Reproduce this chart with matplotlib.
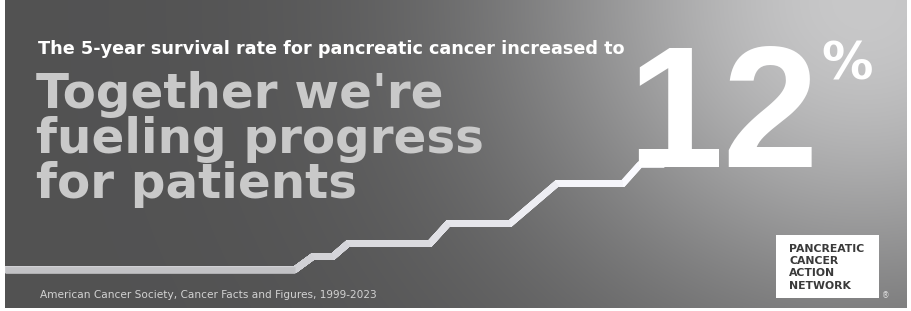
import numpy as np
import matplotlib
matplotlib.use("Agg")
import matplotlib.pyplot as plt
from matplotlib.patches import Rectangle

# ---- data ----
years = [1999.0, 2009.58, 2010.23, 2010.96, 2011.51, 2014.50, 2015.16,
         2017.42, 2019.13, 2021.54, 2022.16, 2023.05]
rates = [4.0, 4.0, 4.99, 4.99, 5.98, 5.98, 7.5, 7.5, 10.55, 10.55, 12.0, 12.0]
headline = ["Together we're", "fueling progress", "for patients"]
subtitle = "The 5-year survival rate for pancreatic cancer increased to"
big_value = "12"
big_unit = "%"
source = "American Cancer Society, Cancer Facts and Figures, 1999-2023"
logo_lines = ["PANCREATIC", "CANCER", "ACTION", "NETWORK"]

W, H = 912, 311
fig = plt.figure(figsize=(W / 100, H / 100), dpi=100, facecolor="white")

def fx(px):
    return px / W

def fy(py):
    return 1 - py / H

# ---- background gradient panel ----
x0, x1, y0, y1 = 5, 907, 0, 308
ax_bg = fig.add_axes([fx(x0), fy(y1), (x1 - x0) / W, (y1 - y0) / H])
gx = np.linspace(x0, x1, 451)
gy = np.linspace(y0, y1, 155)
GX, GY = np.meshgrid(gx, gy)
d2 = ((GX - 865) ** 2) / (2 * 245 ** 2) + ((GY - 0) ** 2) / (2 * 225 ** 2)
val = (82 + 118 * np.exp(-d2)) / 255.0
img = np.dstack([val, val, val * 1.005]).clip(0, 1)
ax_bg.imshow(img, extent=[x0, x1, y1, y0], aspect="auto", interpolation="bilinear")
ax_bg.set_xlim(x0, x1)
ax_bg.set_ylim(y1, y0)
ax_bg.axis("off")

# ---- step line ----
ax = fig.add_axes([fx(5), fy(269.5), (663 - 5) / W, (269.5 - 164.5) / H])
ax.set_xlim(1999, 2023)
ax.set_ylim(4, 12)
ax.axis("off")
ax.patch.set_alpha(0)

def seg_color(t):
    # light gray on the left -> white on the right
    v = 0.72 + 0.28 * min(max(t, 0), 1) ** 1.3
    return (v, v, min(v * 1.02, 1))

n = len(years)
xmin, xmax = years[0], years[-1]
for k in range(n, 1, -1):
    mid = 0.5 * (years[k - 2] + years[k - 1])
    t = (mid - xmin) / (xmax - xmin)
    ax.plot(years[:k], rates[:k], color=seg_color(t), lw=4.8,
            solid_joinstyle="miter", solid_capstyle="butt", clip_on=False)

# ---- texts ----
fig.text(fx(38), fy(54), subtitle, color="white", fontsize=12.7,
         fontweight="bold", family="DejaVu Sans", va="baseline", ha="left")

for i, line in enumerate(headline):
    fig.text(fx(36), fy(108 + 45 * i), line, color="#c9c9c9", fontsize=34.8,
             fontweight="bold", family="DejaVu Sans", va="baseline", ha="left")

fig.text(fx(627), fy(167), big_value, color="white", fontsize=124,
         fontweight="bold", family="Liberation Sans", va="baseline", ha="left")
fig.text(fx(821), fy(80), big_unit, color="white", fontsize=37,
         fontweight="bold", family="DejaVu Sans", va="baseline", ha="left")

fig.text(fx(40), fy(298), source, color="#d2d2d2", fontsize=7.55,
         family="DejaVu Sans", va="baseline", ha="left")

# ---- logo box ----
fig.patches.append(Rectangle((fx(776), fy(298)), (879 - 776) / W, (298 - 235) / H,
                             transform=fig.transFigure, facecolor="white",
                             edgecolor="none", zorder=5))
for i, line in enumerate(logo_lines):
    fig.text(fx(789), fy(252 + 12.2 * i), line, color="#3a3a3a", fontsize=7.8,
             fontweight="bold", family="DejaVu Sans", va="baseline", ha="left",
             zorder=6)
fig.text(fx(882), fy(298), "®", color="#e0e0e0", fontsize=5.5,
         family="DejaVu Sans", va="baseline", ha="left")

fig.savefig("out.png", dpi=100, facecolor="white")
